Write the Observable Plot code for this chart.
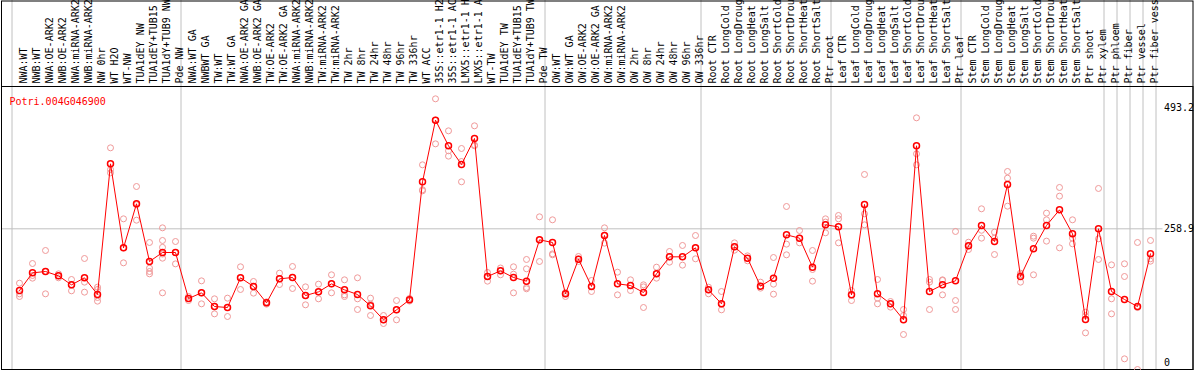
<!DOCTYPE html>
<html><head><meta charset="utf-8">
<script src="https://cdn.jsdelivr.net/npm/d3@7"></script>
<script src="https://cdn.jsdelivr.net/npm/@observablehq/plot@0.6"></script>
<style>body{margin:0;background:#fff}</style>
</head><body><div id="chart"></div>
<script>
const geneId = "Potri.004G046900";
const labels = [
"NWA:WT","NWB:WT","NWA:OE-ARK2","NWB:OE-ARK2","NWA:miRNA-ARK2","NWB:miRNA-ARK2","NW 0hr","WT H2O","WT-NW","TUA1dEY NW","TUA1dEY+TUB15","TUA1dY+TUB9 NW","Pde NW",
"NWA:WT GA","NWBWT GA","TW:WT","TW:WT GA","NWA:OE-ARK2 GA","NWB:OE-ARK2 GA","TW:OE-ARK2","TW:OE-ARK2 GA","NWA:miRNA-ARK2","NWB:miRNA-ARK2","TW:miRNA-ARK2","TW:miRNA-ARK2","TW 2hr","TW 8hr","TW 24hr","TW 48hr","TW 96hr","TW 336hr","WT ACC","35S::etr1-1 H2","35S::etr1-1 AC","LMX5::etr1-1 H","LMX5::etr1-1 A","WT-TW","TUA1dEY TW","TUA1dEY+TUB15","TUA1dY+TUB9 TW","Pde TW",
"OW:WT","OW:WT GA","OW:OE-ARK2","OW:OE-ARK2 GA","OW:miRNA-ARK2","OW:miRNA-ARK2","OW 2hr","OW 8hr","OW 24hr","OW 48hr","OW 96hr","OW 336hr",
"Root CTR","Root LongCold","Root LongDroug","Root LongHeat","Root LongSalt","Root ShortCold","Root ShortDrou","Root ShortHeat","Root ShortSalt","Ptr root",
"Leaf CTR","Leaf LongCold","Leaf LongDroug","Leaf LongHeat","Leaf LongSalt","Leaf ShortCold","Leaf ShortDrou","Leaf ShortHeat","Leaf ShortSalt","Ptr leaf",
"Stem CTR","Stem LongCold","Stem LongDroug","Stem LongHeat","Stem LongSalt","Stem ShortCold","Stem ShortDrou","Stem ShortHeat","Stem ShortSalt","Ptr shoot","Ptr xylem",
"Ptr phloem","Ptr fiber","Ptr vessel","Ptr fiber vess"
];
const means = [
139.4,173.6,176.2,167.8,150.4,164.0,131.7,384.7,222.0,307.3,195.6,213.0,213.0,
123.9,134.9,108.4,106.5,164.0,147.2,115.5,162.0,164.6,129.7,136.8,152.3,140.7,131.7,109.7,82.6,102.0,121.4,349.9,469.3,419.6,383.4,433.8,166.5,177.5,164.6,157.5,237.5,
232.4,133.0,200.1,147.2,245.9,152.3,149.1,135.6,171.7,204.6,204.6,222.0,
140.7,113.6,224.0,202.0,147.8,163.3,247.2,240.8,184.6,266.6,
262.7,131.0,306.0,133.0,113.6,82.6,419.6,137.5,150.4,158.1,
225.9,265.3,234.3,344.7,166.5,220.1,265.3,295.6,249.2,83.3,258.9,
137.5,122.0,108.4,210.4
];
const replicates = [
[153.6,133.0,127.8],[191.7,168.5,163.3],[216.9,176.2,133.0],[171.7,167.8,164.0],[160.7,150.4,138.8],[201.4,155.6,136.2],[145.9,141.4,125.9,118.8],[415.7,373.7,367.3],[278.2,222.0,193.0],[340.8,305.5,275.6],[232.4,182.7,176.2,171.7],[260.8,236.3,223.0,210.0,202.0,134.9],[234.3,213.0,191.0],
[127.8,123.9,120.0],[158.1,134.9,113.6],[123.3,108.4,94.2],[124.6,106.5,89.1],[185.3,164.0,141.4],[156.9,147.2,134.3],[117.5,115.5,113.0],[173.0,162.0,151.0],[185.9,164.6,143.3],[146.5,129.7,111.7],[151.7,136.8,123.3],[169.8,152.3,134.9],[160.1,131.0,127.8],[164.0,123.3,102.6],[124.6,113.0,91.0],[91.0,82.6,75.5],[120.0,102.0,82.6],[124.0,121.4,119.0],[382.8,334.5,332.4],[510.6,469.3,423.4],[448.6,409.9,399.6],[414.4,389.2,349.9],[458.3,421.0,419.6],[174.3,166.5,157.5],[183.0,177.5,169.8],[185.3,171.0,134.9],[199.5,181.4,145.2,142.7],[282.1,237.5,195.6],
[276.3,210.4,208.5],[135.6,133.0,127.8],[205.3,200.1,195.6],[158.8,147.2,137.5],[260.8,245.9,231.1],[174.9,152.3,131.0],[160.1,149.1,139.4],[150.4,146.5,106.5],[184.6,171.7,163.3],[215.0,204.6,194.3],[226.6,204.6,188.5],[245.9,222.0,200.8],
[145.9,140.7,133.0],[137.5,113.6,102.0],[231.7,224.0,217.5],[206.5,202.0,196.9],[155.6,147.8,144.0],[203.3,151.7,132.3],[302.1,229.2,208.5],[255.6,240.8,231.7],[216.9,180.1,157.5],[278.2,272.0,251.1],
[284.7,278.2,231.7],[139.4,131.0,120.0],[364.1,287.9,266.6],[160.7,124.6,113.6],[118.1,113.6,107.2],[102.6,91.0,54.2],[473.8,404.1,382.8],[160.7,155.6,102.6],[160.1,159.0,131.0],[253.7,120.0,102.6],
[233.0,225.9,218.8],[297.6,256.0,240.8],[252.4,241.0,209.1],[369.9,357.0,302.7],[173.0,170.0,155.6],[244.6,240.8,169.8],[289.2,276.3,235.0],[338.9,322.1,222.0],[276.3,240.8,229.8],[97.5,91.0,57.4],[337.0,239.5,199.5],
[189.1,123.3,94.2],[191.1,166.5,7.1],[232.4,106.4,-13.6],[236.3,200.8,196.2]
];
const groupSizes = [13,28,12,10,10,11,1,1,1,1];
const yTicks = [0, 258.9, 493.2];

const idx = labels.map((_, i) => i);
const meanData = means.map((v, i) => ({i, v}));
const repData = replicates.flatMap((r, i) => r.map(v => ({i, v})));
let acc = 0;
const bounds = [-0.5, ...groupSizes.map(s => (acc += s) - 0.5)];

const chart = Plot.plot({
  width: 1194, height: 370,
  marginTop: 86, marginLeft: 1, marginRight: 1.5, marginBottom: 1,
  style: {fontFamily: "'DejaVu Sans Mono', monospace", fontSize: "10px", background: "#fff"},
  x: {domain: [0, 87], range: [19, 1150], axis: null},
  y: {domain: [0, 493.2], range: [362, 107.3], axis: null},
  marks: [
    Plot.ruleX(bounds, {stroke: "#c0c0c0", dx: -1, insetTop: -86}),
    Plot.ruleY([yTicks[1]], {stroke: "#c0c0c0", insetRight: 30}),
    Plot.frame({stroke: "#000", insetTop: -85.5}),
    Plot.frame({stroke: "#000"}),
    Plot.text(idx, {x: d => d, text: d => labels[d], frameAnchor: "top", rotate: -90, textAnchor: "start", dy: -3, fill: "#000"}),
    Plot.dot(repData, {x: "i", y: "v", r: 3, stroke: "#f09999", strokeWidth: 1}),
    Plot.line(meanData, {x: "i", y: "v", stroke: "#ff0000", strokeWidth: 1}),
    Plot.dot(meanData, {x: "i", y: "v", r: 3, stroke: "#ff0000", strokeWidth: 1.5}),
    Plot.text([geneId], {text: d => d, frameAnchor: "top-left", dx: 8, dy: 11, textAnchor: "start", fill: "#ff0000"}),
    Plot.text(yTicks, {y: d => d, text: d => String(d), frameAnchor: "right", dx: -29, textAnchor: "start", fill: "#000"})
  ]
});
document.getElementById("chart").appendChild(chart);
</script>
</body></html>
